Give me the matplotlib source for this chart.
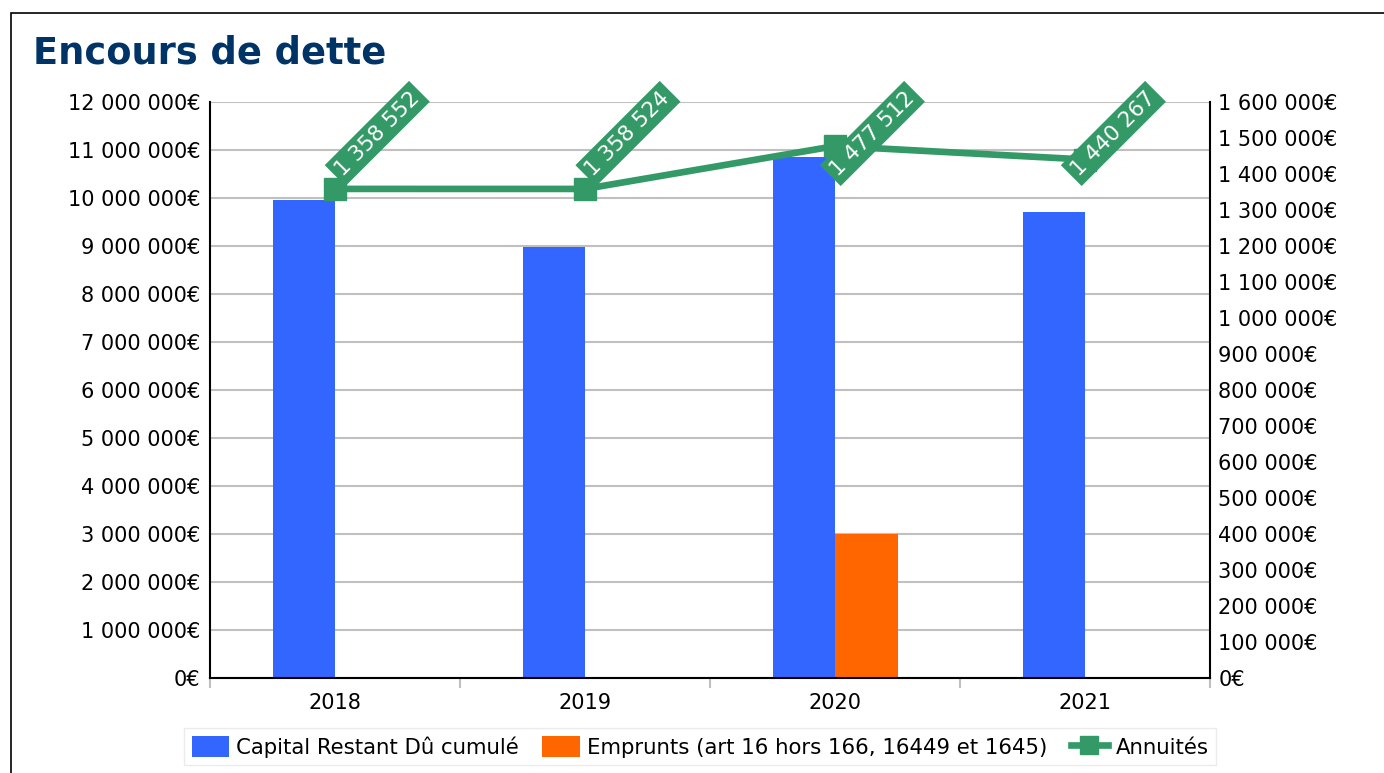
import numpy as np
import matplotlib
matplotlib.use('Agg')
import matplotlib.pyplot as plt
from matplotlib.patches import Rectangle
from matplotlib.ticker import FuncFormatter, MultipleLocator

years = ['2018', '2019', '2020', '2021']
capital = [9958000, 8986000, 10850000, 9708000]
emprunts = [0, 0, 3000000, 0]
annuites = [1358552, 1358524, 1477512, 1440267]

# horizontal nudge of the rotated value labels (points)
label_dx = [2.5, 3, -1, -7.5]

plt.rcParams['font.family'] = ['DejaVu Sans']
plt.rcParams['font.size'] = 15


def euro(v, pos=None):
    return f"{int(round(v)):,}".replace(",", " ") + "€"


W, H = 1384, 773
fig = plt.figure(figsize=(W / 100, H / 100), dpi=100)
ax = fig.add_axes([210 / W, (H - 678) / H, 1000 / W, 576 / H])
ax2 = ax.twinx()

x = np.arange(len(years))
ax.bar(x - 0.125, capital, 0.25, color='#3366ff', label='Capital Restant Dû cumulé', zorder=2)
ax.bar(x + 0.125, emprunts, 0.25, color='#ff6600', label='Emprunts (art 16 hors 166, 16449 et 1645)', zorder=2)
ax2.plot(x, annuites, color='#339966', lw=4.8, marker='s', ms=16, label='Annuités', zorder=3)

ax.set_xlim(-0.5, 3.5)
ax.set_ylim(0, 12e6)
ax2.set_ylim(0, 1.6e6)
ax.yaxis.set_major_locator(MultipleLocator(1e6))
ax2.yaxis.set_major_locator(MultipleLocator(1e5))
ax.yaxis.set_major_formatter(FuncFormatter(euro))
ax2.yaxis.set_major_formatter(FuncFormatter(euro))
ax.grid(axis='y', color='#c0c0c0', lw=1.5)
ax.set_axisbelow(True)

ax.set_xticks(np.arange(-0.5, 4, 1))
ax.set_xticklabels([])
ax.tick_params(axis='x', which='major', length=7, width=1.5, color='#c0c0c0')
ax.set_xticks(x, minor=True)
ax.set_xticklabels(years, minor=True)
ax.tick_params(axis='x', which='minor', length=0, pad=11)
ax.tick_params(axis='y', length=0, pad=7)
ax2.tick_params(axis='y', length=0, pad=6)

for s in ['top', 'right']:
    ax.spines[s].set_visible(False)
for s in ['top', 'left', 'bottom']:
    ax2.spines[s].set_visible(False)
ax.spines['left'].set_linewidth(1.5)
ax.spines['bottom'].set_linewidth(1.5)
ax2.spines['right'].set_linewidth(1.5)

for i, v in enumerate(annuites):
    ax2.annotate(f"{v:,}".replace(",", " "), xy=(i, 0.878),
                 xycoords=('data', 'axes fraction'),
                 xytext=(label_dx[i], 0), textcoords='offset points',
                 rotation=45, rotation_mode='anchor', ha='left', va='center',
                 color='white', fontsize=15.5, zorder=5,
                 bbox=dict(boxstyle='square,pad=0.22', fc='#339966', ec='none'))

h1, l1 = ax.get_legend_handles_labels()
h2, l2 = ax2.get_legend_handles_labels()
fig.legend(h1 + h2, l1 + l2, loc='lower center', bbox_to_anchor=(700 / W, 8 / H),
           ncol=3, fontsize=15.3, frameon=True, fancybox=False, edgecolor='#e6e6e6',
           handlelength=1.75, handleheight=1.2, handletextpad=0.35,
           columnspacing=1.1, borderpad=0.35, borderaxespad=0, markerscale=0.8)

fig.text(33 / W, (H - 64) / H, 'Encours de dette', fontsize=26.5, fontweight='bold',
         color='#003366', va='baseline')
fig.patches.append(Rectangle((11 / W, -0.05), 1.1, (H - 13) / H + 0.05,
                             transform=fig.transFigure, fill=False,
                             ec='black', lw=1.2))

fig.savefig('out.png', dpi=100)
